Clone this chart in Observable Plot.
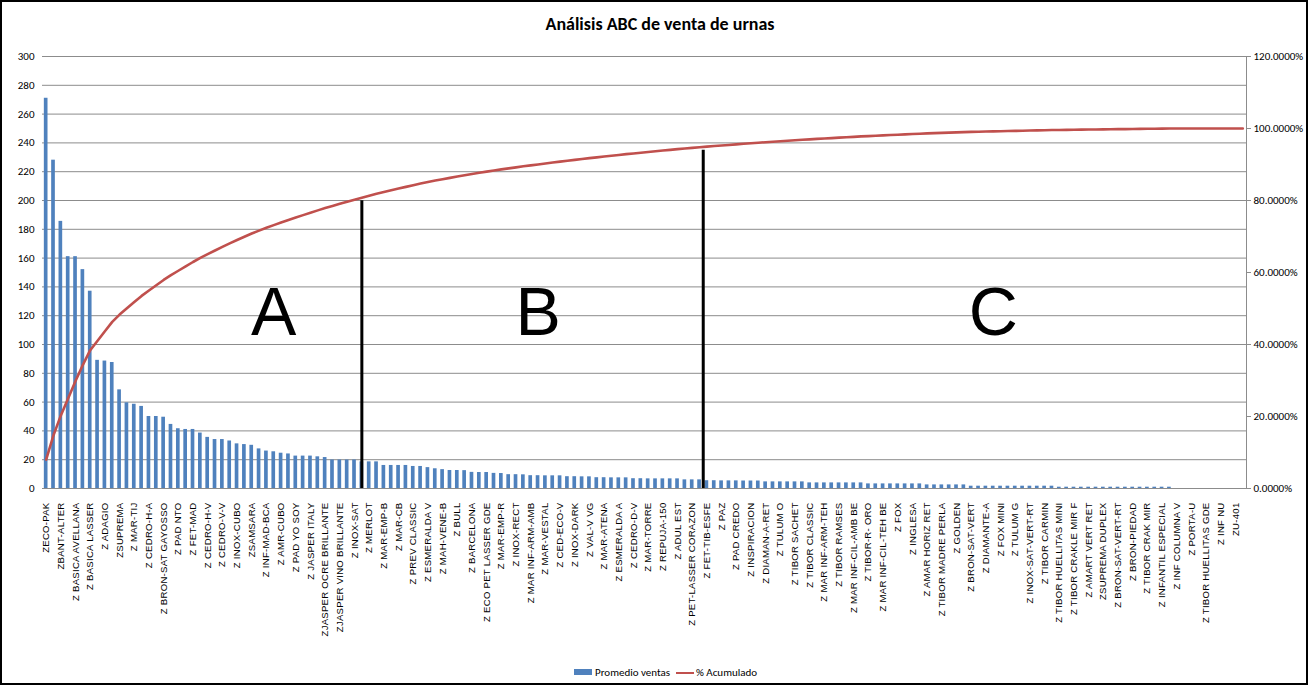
<!DOCTYPE html>
<html>
<head>
<meta charset="utf-8">
<script src="https://cdn.jsdelivr.net/npm/d3@7"></script>
<script src="https://cdn.jsdelivr.net/npm/@observablehq/plot@0.6"></script>
<style>
  html, body { margin: 0; padding: 0; background: #fff; }
  #chart { position: relative; width: 1310px; height: 688px; overflow: hidden; background: #fff;
           font-family: "Liberation Sans Narrow", "Carlito", "DejaVu Sans Condensed", sans-serif; color: #000; }
  #frame { position: absolute; left: 0; top: 0; width: 1308px; height: 685px; border: 2px solid #000;
           box-sizing: border-box; pointer-events: none; }
  #title { position: absolute; left: 0; top: 13px; width: 1320px; text-align: center;
           font-weight: bold; font-size: 18px; }
  #plot { position: absolute; left: 0; top: 44px; }
  .key { position: absolute; font-size: 11px; line-height: 12px; }
  .sw-bar { position: absolute; left: 574px; top: 669px; width: 18px; height: 6px; background: #4F81BD; }
  .sw-line { position: absolute; left: 676px; top: 672px; width: 18px; height: 2px; background: #C0504D; }
  g[aria-label="x-axis tick label"] text { letter-spacing: 0.25px; }
</style>
</head>
<body>
<div id="chart">
  <div id="title">Análisis ABC de venta de urnas</div>
  <div id="plot"></div>
  <div class="sw-bar"></div><div class="key" style="left:595px;top:667px">Promedio ventas</div>
  <div class="sw-line"></div><div class="key" style="left:696px;top:667px">% Acumulado</div>
  <div id="frame"></div>
</div>
<script>
// Tick labels: one product name every second bar
const etiquetas = [
  "ZECO-PAK", "ZBANT-ALTER", "Z BASICA AVELLANA", "Z BASICA LASSER", "Z ADAGIO", "ZSUPREMA",
  "Z MAR-TIJ", "Z CEDRO-H-A", "Z BRON-SAT GAYOSSO", "Z PAD NTO", "Z FET-MAD", "Z CEDRO-H-V",
  "Z CEDRO-V-V", "Z INOX-CUBO", "ZSAMSARA", "Z INF-MAD-BCA", "Z AMR-CUBO", "Z PAD YO SOY",
  "Z JASPER ITALY", "ZJASPER OCRE BRILLANTE", "ZJASPER VINO BRILLANTE", "Z INOX-SAT",
  "Z MERLOT", "Z MAR-EMP-B", "Z MAR-CB", "Z PREV CLASSIC", "Z ESMERALDA V", "Z MAH-VENE-B",
  "Z BULL", "Z BARCELONA", "Z ECO PET LASSER GDE", "Z MAR-EMP-R", "Z INOX-RECT",
  "Z MAR INF-ARM-AMB", "Z MAR-VESTAL", "Z CED-ECO-V", "Z INOX-DARK", "Z VAL-V VG",
  "Z MAR-ATENA", "Z ESMERALDA A", "Z CEDRO-D-V", "Z MAR-TORRE", "Z REPUJA-150", "Z ADUL EST",
  "Z PET-LASSER CORAZON", "Z FET-TIB-ESFE", "Z PAZ", "Z PAD CREDO", "Z INSPIRACION",
  "Z DIAMAN-A-RET", "Z TULUM O", "Z TIBOR SACHET", "Z TIBOR CLASSIC", "Z MAR INF-ARM-TEH",
  "Z TIBOR RAMSES", "Z MAR INF-CIL-AMB BE", "Z TIBOR-R- ORO", "Z MAR INF-CIL-TEH BE", "Z FOX",
  "Z INGLESA", "Z AMAR HORIZ RET", "Z TIBOR MADRE PERLA", "Z GOLDEN", "Z BRON-SAT-VERT",
  "Z DIAMANTE-A", "Z FOX MINI", "Z TULUM G", "Z INOX-SAT-VERT-RT", "Z TIBOR CARMIN",
  "Z TIBOR HUELLITAS MINI", "Z TIBOR CRAKLE MIR F", "Z AMART VERT RET", "ZSUPREMA DUPLEX",
  "Z BRON-SAT-VERT-RT", "Z BRON-PIEDAD", "Z TIBOR CRAK MIR", "Z INFANTIL ESPECIAL",
  "Z INF COLUMNA V", "Z PORTA-U", "Z TIBOR HUELLITAS GDE", "Z INF NU", "ZU-401"
];

// Average sales per product, sorted descending (164 products)
const ventas = [
  271, 228, 185.5, 161, 161, 152, 137, 89, 88.5, 87.5,
  68.5, 59.5, 58.5, 57, 50, 50, 49.5, 44.5, 41.5, 41,
  41, 38.5, 35.5, 34, 34, 33, 31, 30.5, 30, 27.5,
  26, 25.5, 24.5, 24, 22.5, 22.5, 22.5, 22, 21.5, 19.8,
  19.8, 19.8, 19.8,
  18.5, 18.5, 18.5, 16, 16, 16, 16, 15.3, 15.3,
  14.5, 13.7, 13.1, 12.5, 12.5, 12.4, 11.2, 11.1, 11.1, 10.5,
  10.4, 9.6, 9.6, 9.5, 8.9, 8.9, 8.8, 8.8, 8.8, 8.2,
  8.2, 8.1, 8.1, 7.5, 7.5, 7.4, 7.4, 7.4, 6.8, 6.8,
  6.7, 6.7, 6.7, 6.7, 6.7, 6.0, 6.0, 6.0,
  5.4, 5.4, 5.3, 5.3, 5.3, 5.2, 5.2, 5.2,
  4.6, 4.6, 4.6, 4.6, 4.6, 4.6,
  3.9, 3.9, 3.9, 3.9, 3.9, 3.9, 3.9, 3.9,
  3.2, 3.2, 3.2, 3.2, 3.2, 3.2, 3.2, 3.2,
  2.5, 2.5, 2.5, 2.5, 2.5, 2.5,
  1.6, 1.6, 1.6, 1.6, 1.6, 1.6, 1.6, 1.6, 1.6, 1.6, 1.6, 1.6,
  0.9, 0.9, 0.9, 0.9, 0.9, 0.9, 0.9, 0.9, 0.9, 0.9, 0.9, 0.9, 0.9, 0.9, 0.9, 0.9,
  0, 0, 0, 0, 0, 0, 0, 0, 0, 0
];

// ABC zones and the product index at which each boundary is drawn
const zonas = ["A", "B", "C"];
const corteAB = 43;
const corteBC = 89;

// Left axis 0–300 shares the plot with the right axis 0–120 %
const leftTicks = d3.range(0, 301, 20);
const rightTicks = d3.range(0, 121, 20);
const PCT_TO_LEFT = 300 / 120;

const N = ventas.length;
const total = d3.sum(ventas);
let acumulado = 0;
const filas = ventas.map((v, i) => {
  acumulado += v;
  return { i, v, pct: (acumulado / total) * 100 };
});

const W = 1310, marginLeft = 42, marginRight = 64;
const step = (W - marginLeft - marginRight) / N;
const narrow = "Liberation Sans Narrow, Carlito, DejaVu Sans Condensed, sans-serif";

// Vertical boundary from the baseline up to the cumulative curve
const corte = (idx, dx) => Plot.ruleX([idx], {
  x: d => d,
  y1: 0,
  y2: d => filas[d].pct * PCT_TO_LEFT,
  dx,
  stroke: "#000",
  strokeWidth: 3,
  insetBottom: -3
});

const chart = Plot.plot({
  width: W,
  height: 610,
  marginLeft, marginRight,
  marginTop: 12,
  marginBottom: 166,
  style: { color: "#000", background: "transparent", overflow: "visible" },
  x: { type: "band", domain: d3.range(N), paddingInner: 0.5, paddingOuter: 0.25, label: null },
  y: { domain: [0, 300], label: null },
  marks: [
    Plot.gridY(leftTicks.slice(1), { stroke: "#8c8c8c", strokeOpacity: 1, strokeWidth: 1 }),
    Plot.barY(filas, { x: "i", y: "v", fill: "#4F81BD" }),
    Plot.ruleY([0], { stroke: "#8c8c8c", strokeWidth: 1 }),
    Plot.frame({ anchor: "right", stroke: "#8c8c8c" }),
    Plot.line(filas, { x: "i", y: d => d.pct * PCT_TO_LEFT, stroke: "#C0504D", strokeWidth: 2.6 }),
    corte(corteAB, 0),
    corte(corteBC, step / 2),
    Plot.text(zonas, {
      x: (d, k) => [31, 67, 129][k],
      y: () => 122,
      text: d => d,
      fontSize: 68,
      fontFamily: "Liberation Sans, Arial, sans-serif",
      fill: "#000"
    }),
    Plot.axisY({
      ticks: leftTicks, tickSize: 0, tickPadding: 8, label: null,
      fontSize: 11, fontFamily: narrow
    }),
    Plot.axisY({
      anchor: "right",
      ticks: rightTicks.map(p => p * PCT_TO_LEFT),
      tickFormat: d => (d / PCT_TO_LEFT).toFixed(4) + "%",
      tickSize: 4, tickPadding: 3, label: null, stroke: "#8c8c8c",
      fontSize: 11, fontFamily: narrow
    }),
    Plot.axisX({
      ticks: d3.range(0, N, 2),
      tickFormat: i => etiquetas[i / 2],
      tickRotate: -90,
      tickSize: 0,
      tickPadding: 14,
      label: null,
      fontSize: 9.6,
      fontFamily: "Liberation Sans, Arial, sans-serif"
    })
  ]
});
document.getElementById("plot").appendChild(chart);
</script>
</body>
</html>
